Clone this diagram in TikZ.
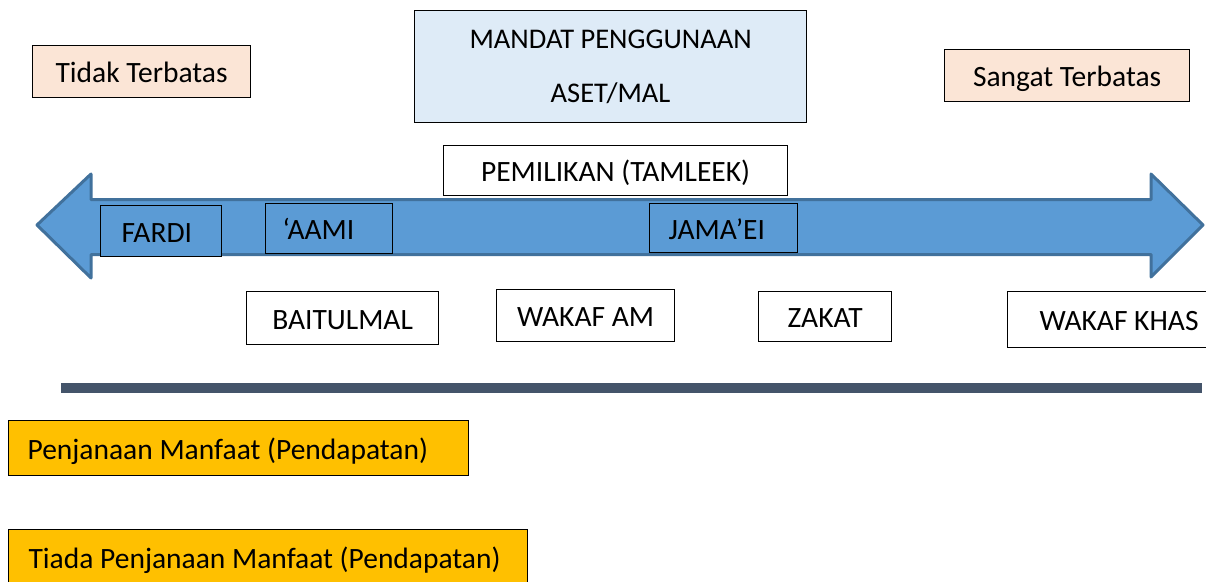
\documentclass[tikz,border=0pt]{standalone}
\usepackage{fontspec}
\setmainfont{Carlito}
\definecolor{peach}{HTML}{FBE5D6}
\definecolor{paleblue}{HTML}{DEEBF7}
\definecolor{arrowfill}{HTML}{5B9BD5}
\definecolor{arrowedge}{HTML}{41719C}
\definecolor{amber}{HTML}{FFC000}
\definecolor{slate}{HTML}{44546A}
\tikzset{
  box/.style={draw=black, line width=1.2pt, anchor=north west, inner ysep=0pt,
    text height=22pt, text depth=0pt, font=\fontsize{29.5}{34}\selectfont},
  cbox/.style={box, inner xsep=1pt},
  lbox/.style={box, inner xsep=#1},
  band/.style={draw=arrowedge, fill=arrowfill, line width=3pt, line join=round},
}
% left-set label of fixed width
\newcommand{\lefttext}[2]{\makebox[#1][l]{#2}}
\begin{document}
\begin{tikzpicture}[x=1pt, y=-1pt]
\useasboundingbox (0,0) rectangle (1206,581);
\clip (0,0) rectangle (1206,581);

% double-headed band
\draw[band] (37,225) -- (91,174) -- (91,199.5) -- (1151,199.5) -- (1151,174)
  -- (1203,225) -- (1151,277) -- (1151,254.5) -- (91,254.5) -- (91,278) -- cycle;

% top row
\node[cbox, fill=peach, minimum width=218pt, minimum height=52pt] (tidak) at (32,45) {Tidak Terbatas};
\node[cbox, fill=paleblue, minimum width=392pt, minimum height=112pt, align=center,
  text height=, text depth=, font=\fontsize{28.5}{54}\selectfont] (mandat) at (414,10)
  {MANDAT PENGGUNAAN\\ASET/MAL};
\node[cbox, fill=peach, minimum width=245pt, minimum height=52pt] (sangat) at (944,49) {Sangat Terbatas};
\node[cbox, fill=white, minimum width=344pt, minimum height=50pt] (pemilikan) at (443,145) {PEMILIKAN (TAMLEEK)};

% labels on the band
\node[lbox=21pt, fill=arrowfill, minimum width=121pt, minimum height=51pt] (fardi) at (100,205)
  {\lefttext{79pt}{FARDI}};
\node[lbox=17pt, fill=arrowfill, minimum width=127pt, minimum height=50pt] (aami) at (265,203)
  {\lefttext{93pt}{‘AAMI}};
\node[lbox=19pt, fill=arrowfill, minimum width=148pt, minimum height=49pt] (jamaei) at (649,203)
  {\lefttext{110pt}{JAMA’EI}};

% institutions below the band
\node[cbox, fill=white, minimum width=192pt, minimum height=53pt] (baitulmal) at (246,291) {BAITULMAL};
\node[cbox, fill=white, minimum width=178pt, minimum height=52pt] (wakafam) at (496,289) {WAKAF AM};
\node[cbox, fill=white, minimum width=133pt, minimum height=50pt] (zakat) at (758,291) {ZAKAT};
\node[lbox=32pt, fill=white, minimum width=230pt, minimum height=56pt] (wakafkhas) at (1007,291)
  {\lefttext{166pt}{WAKAF KHAS}};

% divider
\coordinate (divL) at (61,388);
\coordinate (divR) at (1202,388);
\draw[slate, line width=10pt] (divL) -- (divR);

% legend boxes
\node[lbox=19pt, fill=amber, minimum width=460pt, minimum height=55pt] (penjanaan) at (8,420)
  {\lefttext{422pt}{Penjanaan Manfaat (Pendapatan)}};
\node[lbox=20pt, fill=amber, minimum width=519pt, minimum height=56pt] (tiada) at (8,529)
  {\lefttext{479pt}{Tiada Penjanaan Manfaat (Pendapatan)}};
\end{tikzpicture}
\end{document}
